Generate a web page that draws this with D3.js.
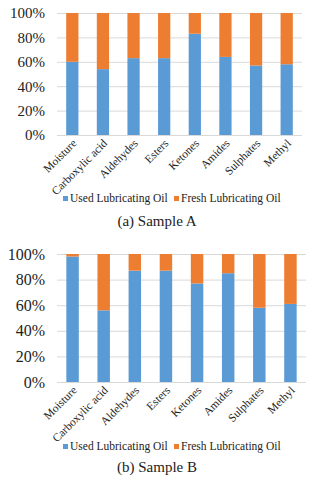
<!DOCTYPE html>
<html>
<head>
<meta charset="utf-8">
<script src="https://cdn.jsdelivr.net/npm/d3@7"></script>
<style>
  body { margin: 0; background: #fff; }
</style>
</head>
<body>
<div id="chart"></div>
<script>
var categories = ["Moisture", "Carboxylic acid", "Aldehydes", "Esters", "Ketones", "Amides", "Sulphates", "Methyl"];
var seriesNames = ["Used Lubricating Oil", "Fresh Lubricating Oil"];
var usedA = [60, 54, 63, 63, 83, 64, 57, 58];
var freshA = [40, 46, 37, 37, 17, 36, 43, 42];
var usedB = [98, 56, 87, 87, 77, 85, 58, 61];
var freshB = [2, 44, 13, 13, 23, 15, 42, 39];
var yTicks = [0, 0.2, 0.4, 0.6, 0.8, 1];
var captions = ["(a) Sample A", "(b) Sample B"];

var colors = ["#5b9bd5", "#ed7d31"];
var serif = "'Liberation Serif'";

var svg = d3.select("#chart").append("svg")
    .attr("width", 313)
    .attr("height", 480);

var panels = [
    { used: usedA, fresh: freshA, caption: captions[0], top: 13, bottom: 135, left: 57, right: 302, tickSize: 15, legendY: 202, captionY: 226 },
    { used: usedB, fresh: freshB, caption: captions[1], top: 254, bottom: 382, left: 57, right: 306, tickSize: 16, legendY: 450, captionY: 472 }
];

panels.forEach(function(p) {
    var rows = categories.map(function(c, i) {
        var total = p.used[i] + p.fresh[i];
        return { cat: c, used: p.used[i] / total, fresh: p.fresh[i] / total };
    });
    var stacked = d3.stack().keys(["used", "fresh"])(rows);

    var x = d3.scaleBand().domain(categories).range([p.left, p.right]).paddingInner(0.6).paddingOuter(0.3);
    var y = d3.scaleLinear().domain([0, 1]).range([p.bottom, p.top]);

    var g = svg.append("g");

    // gridlines
    g.append("g").selectAll("line").data(yTicks).enter().append("line")
        .attr("x1", p.left).attr("x2", p.right)
        .attr("y1", function(d) { return y(d) + 0.5; })
        .attr("y2", function(d) { return y(d) + 0.5; })
        .attr("stroke", "#d9d9d9").attr("stroke-width", 1);

    // y axis labels
    var yAxis = d3.axisLeft(y).tickValues(yTicks).tickFormat(d3.format(".0%")).tickSize(0).tickPadding(12);
    var ya = g.append("g").attr("transform", "translate(" + p.left + ",0)").call(yAxis);
    ya.attr("font-family", null).attr("font-size", null);
    ya.select(".domain").remove();
    ya.selectAll("text").style("font-size", p.tickSize + "px").style("font-family", serif).attr("fill", "#222");

    // bars
    g.append("g").selectAll("g").data(stacked).enter().append("g")
        .attr("fill", function(d, i) { return colors[i]; })
        .selectAll("rect").data(function(d) { return d; }).enter().append("rect")
        .attr("x", function(d) { return x(d.data.cat); })
        .attr("width", x.bandwidth())
        .attr("y", function(d) { return y(d[1]); })
        .attr("height", function(d) { return y(d[0]) - y(d[1]); });

    // x labels, rotated
    var xAxis = d3.axisBottom(x).tickSize(0).tickPadding(0);
    var xa = g.append("g").attr("transform", "translate(0," + p.bottom + ")").call(xAxis);
    xa.attr("font-family", null).attr("font-size", null);
    xa.select(".domain").remove();
    xa.selectAll("text")
        .style("font-size", "11.5px")
        .style("font-family", serif)
        .style("text-anchor", "end")
        .attr("fill", "#222")
        .attr("dy", null)
        .attr("y", 0)
        .attr("transform", "translate(5,9) rotate(-45)");

    // legend
    var lg = g.append("g").attr("transform", "translate(0," + p.legendY + ")");
    var lx = [63, 174];
    seriesNames.forEach(function(name, i) {
        lg.append("rect").attr("x", lx[i]).attr("y", -6).attr("width", 5).attr("height", 5).attr("fill", colors[i]);
        lg.append("text").attr("x", lx[i] + 7).attr("y", 0)
            .style("font-size", "11.5px").style("font-family", serif).attr("fill", "#222").text(name);
    });

    g.append("text").attr("x", 157).attr("y", p.captionY)
        .attr("text-anchor", "middle").style("font-size", "15px").style("font-family", serif)
        .attr("fill", "#222").text(p.caption);
});
</script>
</body>
</html>
